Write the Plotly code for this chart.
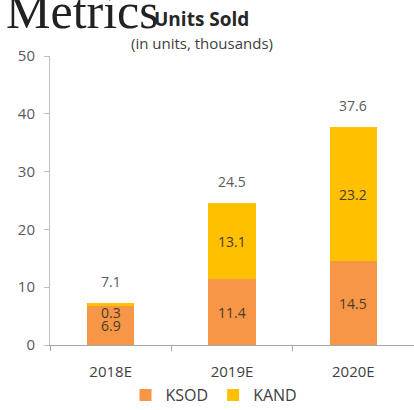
import plotly.graph_objects as go

categories = ["2018E", "2019E", "2020E"]
ksod = [6.9, 11.4, 14.5]
kand = [0.3, 13.1, 23.2]
totals = [7.1, 24.5, 37.6]
y_ticks = [0, 10, 20, 30, 40, 50]

ORANGE = "#F79646"
GOLD = "#FFC000"
FONT = "Open Sans"
PLOT_W = 364
PLOT_H = 289

fig = go.Figure()
fig.add_trace(go.Bar(x=categories, y=ksod, name="KSOD", marker_color=ORANGE,
                     marker_line_width=0))
fig.add_trace(go.Bar(x=categories, y=kand, name="KAND", marker_color=GOLD,
                     marker_line_width=0))

ann = []
for c, a, b, t in zip(categories, ksod, kand, totals):
    ann.append(dict(x=c, y=a / 2, text=f"{a}", showarrow=False,
                    font=dict(family=FONT, size=14, color="#4A3B2A")))
    ann.append(dict(x=c, y=a + b / 2, text=f"{b}", showarrow=False,
                    yshift=-8 if b < 1 else 0,
                    font=dict(family=FONT, size=14, color="#4A3B2A")))
    ann.append(dict(x=c, y=a + b, text=f"{t}", showarrow=False, yshift=22,
                    font=dict(family=FONT, size=14, color="#595959")))

ann.append(dict(xref="paper", yref="paper", x=-46 / PLOT_W, y=1 + (56 - 41) / PLOT_H,
                xanchor="left", yanchor="bottom", text="Metrics", showarrow=False,
                font=dict(family="Liberation Serif", size=50, color="#222222")))
ann.append(dict(xref="paper", yref="paper", x=(201 - 50) / PLOT_W, y=1 + 37 / PLOT_H,
                xanchor="center", yanchor="middle", text="<b>Units Sold</b>",
                showarrow=False, font=dict(family=FONT, size=19, color="#262626")))
ann.append(dict(xref="paper", yref="paper", x=(202 - 50) / PLOT_W, y=1 + 13 / PLOT_H,
                xanchor="center", yanchor="middle", text="(in units, thousands)",
                showarrow=False, font=dict(family=FONT, size=15, color="#404040")))

fig.update_layout(
    barmode="stack",
    bargap=0.61,
    width=414, height=410,
    margin=dict(l=50, r=0, t=56, b=65, autoexpand=False),
    plot_bgcolor="white", paper_bgcolor="white",
    showlegend=True,
    legend=dict(orientation="h", x=(214 - 50) / PLOT_W, xanchor="center",
                y=-(395 - 345) / PLOT_H, yanchor="middle",
                font=dict(family=FONT, size=16, color="#404040"),
                itemwidth=30, traceorder="normal", tracegroupgap=0),
    annotations=ann,
    xaxis=dict(showline=True, linecolor="#A6A6A6", linewidth=1,
               ticks="outside", tickson="boundaries", ticklen=5,
               tickcolor="#A6A6A6", ticklabelstandoff=13,
               tickfont=dict(family=FONT, size=15, color="#404040")),
    yaxis=dict(range=[0, 50], tickvals=y_ticks, showgrid=False, zeroline=False,
               showline=True, linecolor="#BFBFBF", linewidth=1,
               ticks="outside", ticklen=5, tickcolor="#BFBFBF",
               ticklabelstandoff=6,
               tickfont=dict(family=FONT, size=15, color="#595959")),
)

fig.write_html("out.html", config={"displayModeBar": False},
               post_script="document.body.style.margin='0';")
